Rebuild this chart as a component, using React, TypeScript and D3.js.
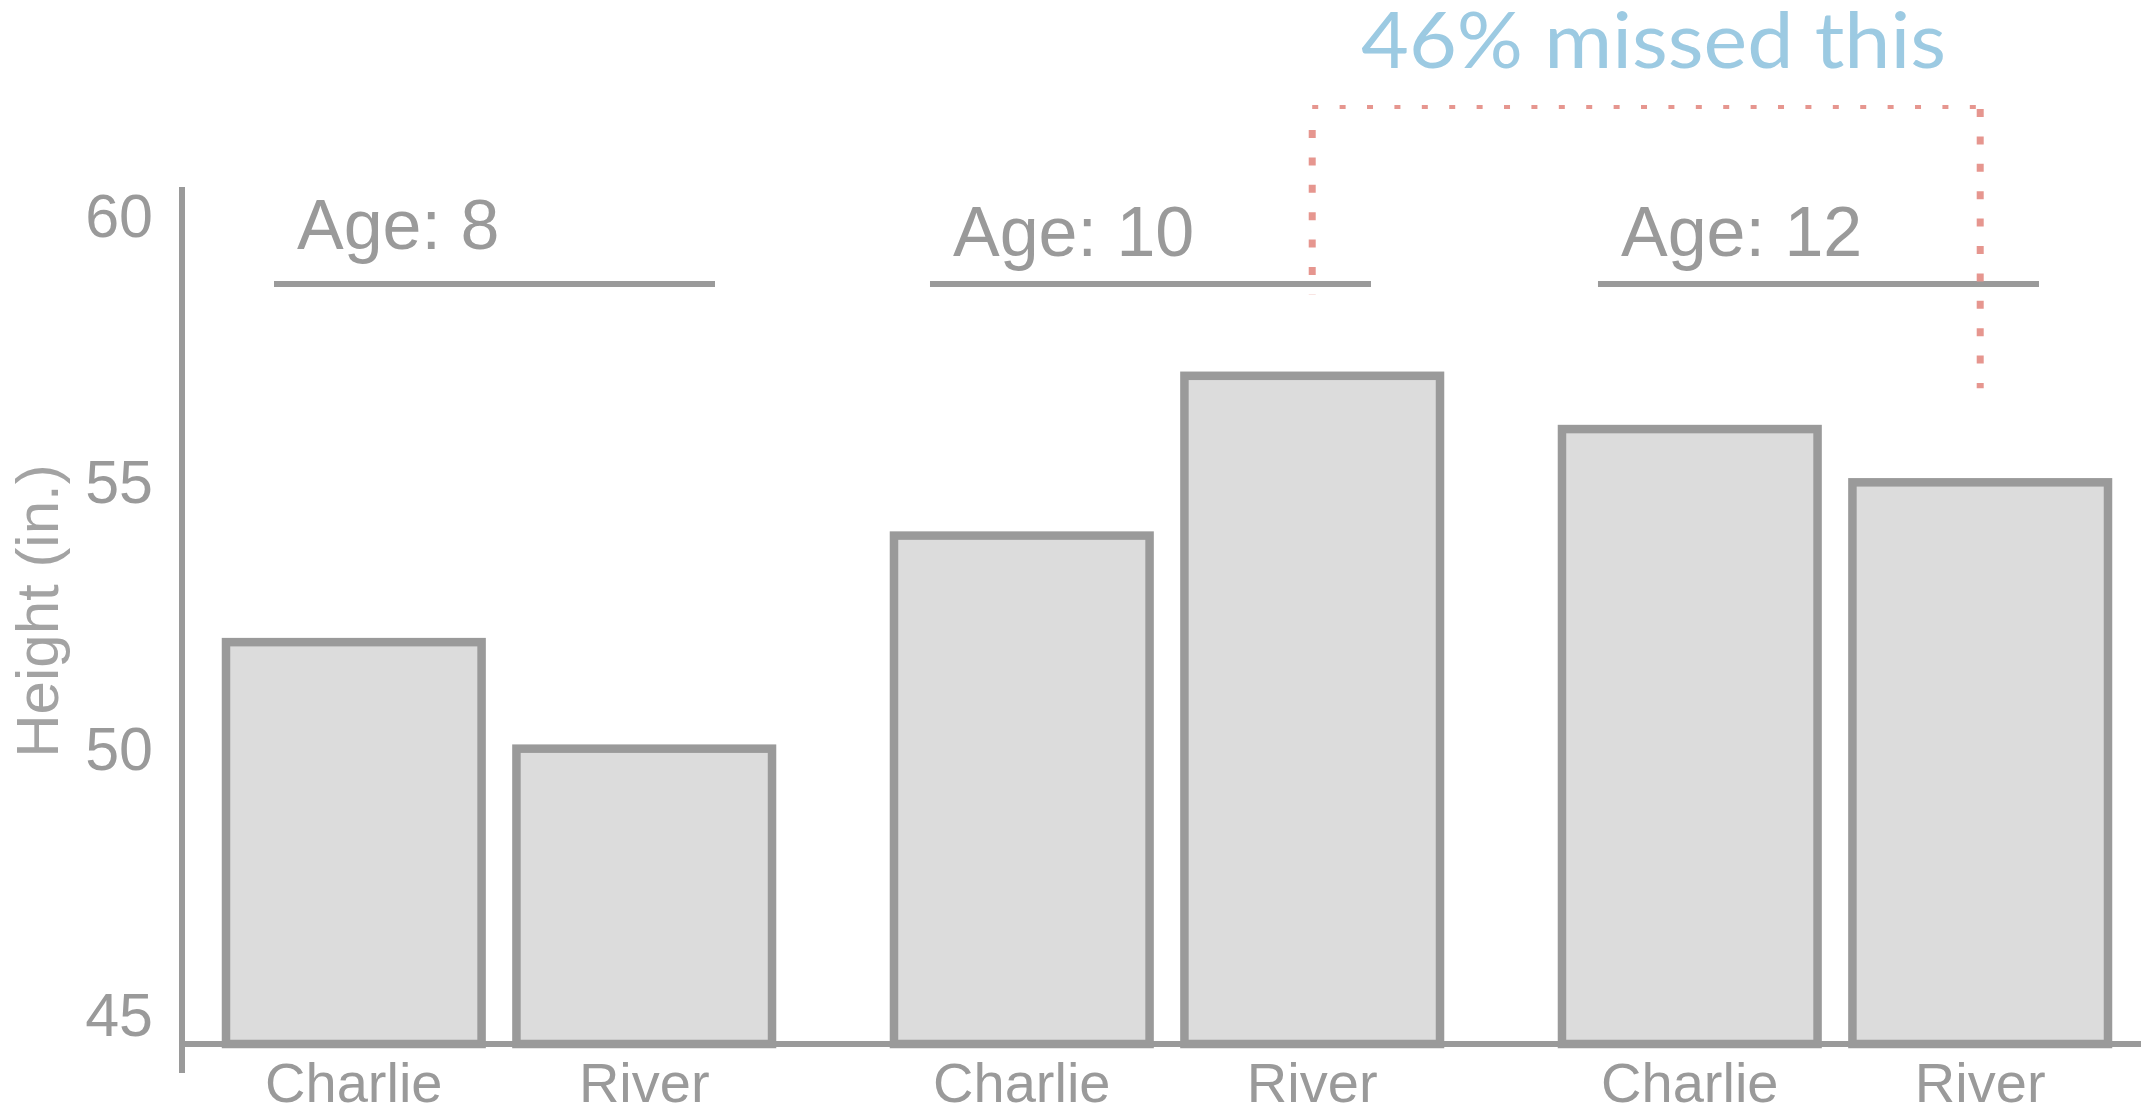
import React from "react";
import * as d3 from "d3";

// Heights (in.) of two children measured at three ages
const ages = ["8", "10", "12"];
const kids = ["Charlie", "River"];
const charlieHeights = [52, 54, 56];
const riverHeights = [50, 57, 55];
const yTicks = [45, 50, 55, 60];
const calloutText = "46% missed this";

const W = 2141;
const H = 1116;
const GREY = "#9a9a9a";
const FILL = "#dcdcdc";
const RED = "#e6968f";
const BLUE = "#9ccae2";
const FONT = "'Liberation Sans', Arial, Helvetica, sans-serif";

export default function App() {
  const axisX = 182;
  const axisY = 1044;

  const y = d3.scaleLinear().domain([45, 60]).range([1015, 216]);
  const xGroup = d3
    .scaleBand<string>()
    .domain(ages)
    .range([226, 2108])
    .paddingInner(0.1826)
    .paddingOuter(0);
  const xKid = d3
    .scaleBand<string>()
    .domain(kids)
    .range([0, xGroup.bandwidth()])
    .paddingInner(0.12);

  const rows = ages.flatMap((age, i) => [
    { age, kid: "Charlie", value: charlieHeights[i] },
    { age, kid: "River", value: riverHeights[i] },
  ]);

  const barCenter = (age: string, kid: string) =>
    (xGroup(age) ?? 0) + (xKid(kid) ?? 0) + xKid.bandwidth() / 2;

  // header rule inset from each group's left edge, and label baseline
  const headerInset = [48, 36, 36];
  const headerBaseline = [249, 256, 256];

  // Callout bracket joining River's bars at ages 10 and 12
  const leftX = barCenter("10", "River");
  const rightX = barCenter("12", "River");
  const bracketTop = 107;
  const leftEnd = y(riverHeights[1]) - 81;
  const rightEnd = y(riverHeights[2]) - 94;

  return (
    <svg
      width={W}
      height={H}
      style={{ position: "absolute", left: 0, top: 0, display: "block", background: "#fff" }}
    >
      {/* bars */}
      {rows.map((d) => (
        <rect
          key={d.age + d.kid}
          x={(xGroup(d.age) ?? 0) + (xKid(d.kid) ?? 0)}
          y={y(d.value)}
          width={xKid.bandwidth()}
          height={axisY - y(d.value)}
          fill={FILL}
          stroke={GREY}
          strokeWidth={8.5}
        />
      ))}

      {/* axes */}
      <line x1={axisX} x2={W} y1={axisY} y2={axisY} stroke={GREY} strokeWidth={6} />
      <line x1={axisX} x2={axisX} y1={187} y2={1073} stroke={GREY} strokeWidth={6} />

      {/* y tick labels */}
      {yTicks.map((t) => (
        <text
          key={t}
          x={153}
          y={y(t)}
          textAnchor="end"
          dominantBaseline="central"
          fontFamily={FONT}
          fontSize={61}
          fill={GREY}
        >
          {t}
        </text>
      ))}

      <text
        transform={`translate(37,611) rotate(-90)`}
        textAnchor="middle"
        dominantBaseline="central"
        fontFamily={FONT}
        fontSize={60}
        fill="#a3a3a3"
      >
        Height (in.)
      </text>

      {/* kid labels */}
      {rows.map((d) => (
        <text
          key={"l" + d.age + d.kid}
          x={barCenter(d.age, d.kid)}
          y={1102}
          textAnchor="middle"
          fontFamily={FONT}
          fontSize={56}
          fill={GREY}
        >
          {d.kid}
        </text>
      ))}

      {/* age group headers */}
      {ages.map((age, i) => {
        const x0 = (xGroup(age) ?? 0) + headerInset[i];
        return (
          <g key={"age" + age}>
            <line x1={x0} x2={x0 + 441} y1={284} y2={284} stroke={GREY} strokeWidth={6} />
            <text x={x0 + 23} y={headerBaseline[i]} fontFamily={FONT} fontSize={70} fill={GREY}>
              {`Age: ${age}`}
            </text>
          </g>
        );
      })}

      {/* dotted callout bracket */}
      <line
        x1={leftX}
        x2={rightX}
        y1={bracketTop}
        y2={bracketTop}
        stroke={RED}
        strokeWidth={4}
        strokeDasharray="6 21.4"
      />
      <line
        x1={leftX}
        x2={leftX}
        y1={bracketTop + 23}
        y2={leftEnd}
        stroke={RED}
        strokeWidth={7}
        strokeDasharray="8 19.4"
      />
      <line
        x1={rightX}
        x2={rightX}
        y1={bracketTop + 2}
        y2={rightEnd}
        stroke={RED}
        strokeWidth={7}
        strokeDasharray="8 19.4"
      />

      <text
        x={1361}
        y={68}
        fontFamily="Lato, 'Open Sans', sans-serif"
        fontSize={78}
        fill={BLUE}
        textLength={585}
        lengthAdjust="spacingAndGlyphs"
      >
        {calloutText}
      </text>
    </svg>
  );
}
